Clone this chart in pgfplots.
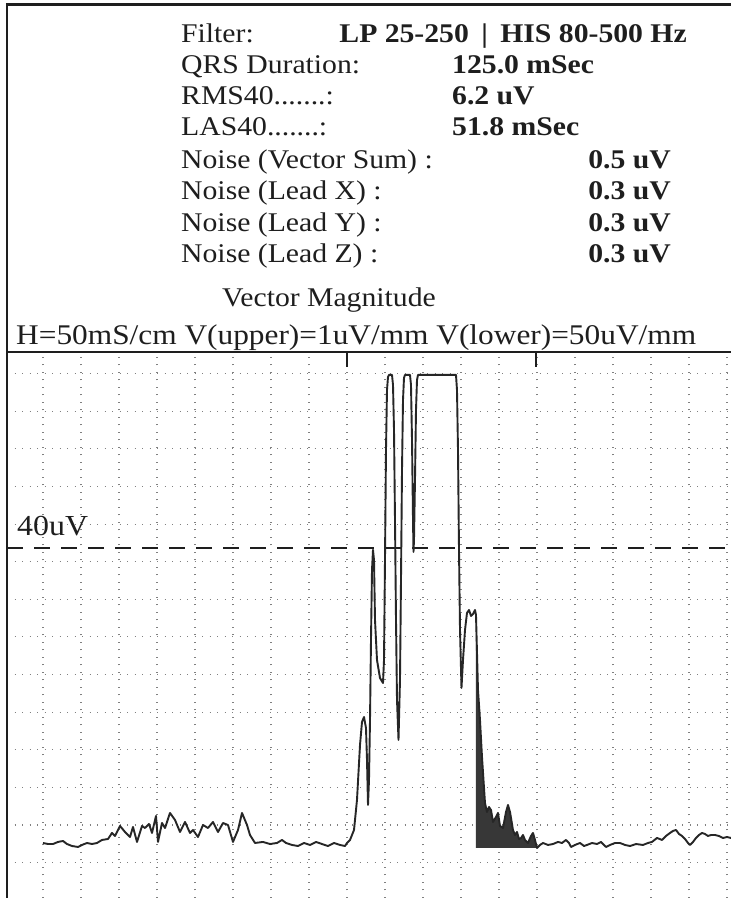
\documentclass[border=0pt]{standalone}
\usepackage{pgfplots}
\pgfplotsset{compat=1.18}
\usepackage{fontspec}
\setmainfont[FakeStretch=1.1]{Liberation Serif}
\definecolor{ink}{HTML}{1E1E1E}
\definecolor{trace}{HTML}{262626}
\begin{document}
\begin{tikzpicture}[every node/.style={inner sep=0pt, text=ink}]
\useasboundingbox (0,0) rectangle (731bp,898bp);
\fill[white] (0,0) rectangle (731bp,898bp);
% header text
\begin{scope}[font=\fontsize{27bp}{31bp}\selectfont]
\node[anchor=base west] at (181bp,855bp) {Filter:};
\node[anchor=base east] at (687bp,855bp) {\bfseries LP 25-250\hspace{5bp} | \hspace{5bp}HIS 80-500 Hz};
\node[anchor=base west] at (181bp,824bp) {QRS Duration:};
\node[anchor=base west] at (452bp,824bp) {\bfseries 125.0 mSec};
\node[anchor=base west] at (181bp,793bp) {RMS40.......:};
\node[anchor=base west] at (452bp,793bp) {\bfseries 6.2 uV};
\node[anchor=base west] at (181bp,762bp) {LAS40.......:};
\node[anchor=base west] at (452bp,762bp) {\bfseries 51.8 mSec};
\node[anchor=base west] at (181bp,729.4bp) {Noise (Vector Sum) :};
\node[anchor=base east] at (671bp,729.4bp) {\bfseries 0.5 uV};
\node[anchor=base west] at (181bp,698bp) {Noise (Lead X) :};
\node[anchor=base east] at (671bp,698bp) {\bfseries 0.3 uV};
\node[anchor=base west] at (181bp,666.6bp) {Noise (Lead Y) :};
\node[anchor=base east] at (671bp,666.6bp) {\bfseries 0.3 uV};
\node[anchor=base west] at (181bp,635.2bp) {Noise (Lead Z) :};
\node[anchor=base east] at (671bp,635.2bp) {\bfseries 0.3 uV};
\node[anchor=base west] at (222bp,591bp) {Vector Magnitude};
\end{scope}
\node[anchor=base west, font=\fontsize{28.5bp}{33bp}\selectfont] at (16bp,553bp) {H=50mS/cm V(upper)=1uV/mm V(lower)=50uV/mm};

\begin{axis}[
  at={(7bp,0bp)}, anchor=south west,
  scale only axis, width=724bp, height=546bp,
  xmin=0, xmax=476.32, ymin=-7.46, ymax=66.57,
  axis line style={draw=none},
  major tick length=0pt,
  xtick={23.7,48.7,73.7,98.7,123.7,148.7,173.7,198.7,223.7,248.7,273.7,298.7,323.7,348.7,373.7,398.7,423.7,448.7,473.7},
  ytick={-2.66,2.44,7.54,12.64,17.74,22.84,27.94,33.04,38.14,43.24,48.34,53.44,58.54,63.64},
  xticklabels={}, yticklabels={},
  grid=major,
  major grid style={black!50, line width=1.1bp, dash pattern=on 1.1bp off 6.4bp},
]
% 40 uV reference
\addplot[ink, line width=1.8bp, dash pattern=on 16bp off 11bp] coordinates {(0,40) (476.32,40)};
% QRS onset / offset markers
\addplot[ink, line width=1.5bp] coordinates {(223.68,66.57) (223.68,64.5)};
\addplot[ink, line width=1.5bp] coordinates {(348.03,66.57) (348.03,64.5)};
% dense late-potential oscillation area
\addplot[draw=none, fill=trace!92] coordinates {
(308.55,30.91) (309.87,20.75) (311.18,16.68) (312.50,11.66) (314.47,5.42) (315.79,4.20) (317.11,4.88) (318.42,4.47) (319.74,2.85) (321.71,3.53) (323.03,4.07) (324.34,2.31) (326.32,2.03) (328.29,4.20) (329.61,5.15) (330.92,4.20) (332.89,1.76) (334.21,1.08) (335.53,1.49) (336.84,0.54) (338.16,0.68) (339.47,1.08) (340.79,0.41) (342.76,0) (344.74,0.95) (346.05,1.36) (347.37,0.41) (348.68,-0.68) (308.55,-0.68)};
% vector magnitude trace
\addplot[trace, line width=1.9bp, line join=round] coordinates {
(23.68,0) (26.97,-0.14) (30.26,-0.14) (33.55,0.14) (36.84,0.27) (39.47,-0.14) (42.76,-0.41) (46.71,-0.54) (49.34,-0.27) (52.63,0) (55.92,-0.14) (59.21,0) (62.50,0.41) (66.45,0.54) (69.08,1.36) (71.05,0.95) (74.34,2.31) (77.63,1.49) (80.92,0.81) (82.89,2.17) (85.53,0.14) (88.82,2.31) (90.79,2.03) (93.42,2.58) (95.39,1.36) (98.03,3.66) (99.34,0.14) (101.97,2.71) (103.95,2.03) (107.24,4.07) (110.53,3.12) (113.82,1.49) (117.11,2.85) (120.39,1.36) (122.37,1.76) (125.66,0.81) (128.95,2.44) (132.24,2.03) (135.53,2.85) (138.82,1.49) (142.11,2.71) (145.39,2.44) (148.68,0.14) (151.97,1.76) (154.61,4.07) (157.89,2.44) (159.87,1.08) (163.16,0) (168.42,0.14) (173.03,-0.14) (177.63,0) (180.92,0.41) (183.55,0) (187.50,-0.27) (191.45,-0.41) (195.39,0) (199.34,-0.27) (203.29,0.14) (207.24,-0.14) (211.18,-0.41) (215.13,0) (219.08,-0.27) (222.37,-0.41)
(223.68,0) (225.66,0.41) (228.29,1.76) (230.26,5.83) (232.24,13.29) (233.55,16.41) (234.87,17.08) (236.18,15.59) (236.84,11.25) (237.50,5.15) (238.16,8.54) (238.82,16.68) (239.47,27.52) (240.13,37.02) (240.79,39.73) (241.45,38.37) (242.11,30.24) (243.42,24.81) (245.39,22.37) (247.37,21.69) (248.03,24.81) (248.68,38.37) (249.34,53.29) (250.00,61.42) (250.66,63.19) (251.32,63.46) (253.29,63.46) (253.95,62.10) (254.61,56.00) (255.26,43.80) (255.92,30.24) (256.58,19.39) (257.57,13.97) (258.55,22.10) (259.21,35.66) (259.87,50.57) (260.53,60.07) (261.18,63.05) (261.84,63.46) (265.13,63.46) (265.79,62.10) (266.45,54.64) (267.11,43.80) (267.43,39.46) (267.76,41.08) (268.42,49.22) (269.08,58.71) (269.74,62.78) (270.39,63.46) (295.39,63.46) (296.05,61.42) (296.71,53.29) (297.37,39.73) (298.03,28.88) (299.01,21.02) (300.00,24.81) (301.32,28.88) (302.63,31.19) (303.95,31.59) (305.26,30.78) (306.58,31.05) (307.89,31.59) (308.55,30.91)
(309.87,20.75) (311.18,16.68) (312.50,11.66) (314.47,5.42) (315.79,4.20) (317.11,4.88) (318.42,4.47) (319.74,2.85) (321.71,3.53) (323.03,4.07) (324.34,2.31) (326.32,2.03) (328.29,4.20) (329.61,5.15) (330.92,4.20) (332.89,1.76) (334.21,1.08) (335.53,1.49) (336.84,0.54) (338.16,0.68) (339.47,1.08) (340.79,0.41) (342.76,0) (344.74,0.95) (346.05,1.36) (347.37,0.41) (348.68,-0.68)
(350.66,-0.27) (352.63,0) (355.92,-0.27) (359.21,-0.14) (362.50,0.14) (365.13,0) (367.76,0.41) (369.74,0) (371.05,-0.54) (373.68,-0.27) (376.97,0) (379.61,-0.41) (381.58,-0.27) (384.87,0) (388.16,-0.14) (390.79,0.14) (392.76,-0.27) (394.08,-0.54) (396.71,-0.27) (400.00,0) (403.29,0) (406.58,-0.27) (409.87,-0.41) (413.82,-0.14) (418.42,-0.27) (421.71,0) (424.34,0.14) (427.63,0.68) (430.92,0.41) (433.55,0.95) (436.18,1.36) (438.16,1.63) (440.13,1.76) (442.11,1.22) (444.08,0.95) (446.05,0.54) (448.03,0) (449.34,-0.27) (451.32,0.14) (453.29,0.68) (455.26,1.08) (457.24,1.36) (459.21,1.22) (461.18,0.95) (463.16,1.08) (465.79,1.08) (468.42,0.95) (471.05,0.68) (473.68,0.81) (476.32,0.68)};
\end{axis}
\node[anchor=base west, font=\fontsize{29bp}{33bp}\selectfont] at (17bp,362bp) {40uV};
% frame
\draw[ink, line width=2.5bp] (7bp,0) -- (7bp,893bp);
\draw[ink, line width=3bp] (5.75bp,893bp) -- (731bp,893bp);
\draw[ink, line width=2bp] (7bp,546bp) -- (731bp,546bp);
\end{tikzpicture}
\end{document}
